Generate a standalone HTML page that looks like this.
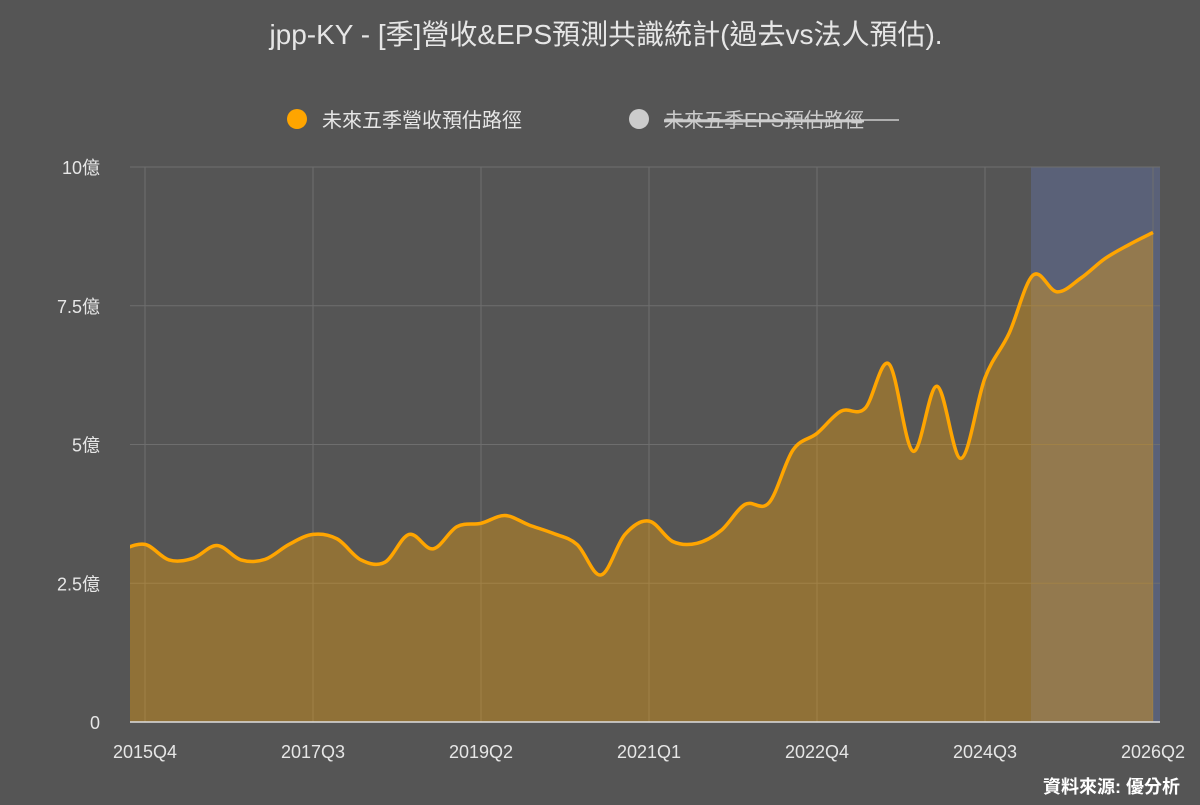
<!DOCTYPE html>
<html><head><meta charset="utf-8"><style>
body{margin:0;background:#555555;font-family:"Liberation Sans","Noto Sans CJK TC",sans-serif;}
svg text{font-family:"Liberation Sans","Noto Sans CJK TC",sans-serif;}
</style></head><body>
<svg id="chart" width="1200" height="800">
<rect width="1200" height="800" fill="#555555"/>
<text x="606" y="44" text-anchor="middle" font-size="28" fill="#e6e6e6">jpp-KY - [季]營收&amp;EPS預測共識統計(過去vs法人預估).</text>
<g><circle cx="297" cy="119" r="10" fill="#ffa500"/><text x="322" y="127" font-size="20" fill="#e6e6e6">未來五季營收預估路徑</text></g>
<g><circle cx="639" cy="119" r="10" fill="#cccccc"/><text x="664" y="127" font-size="20" fill="#cccccc" text-decoration="line-through">未來五季EPS預估路徑</text><line x1="664" y1="120" x2="899" y2="120" stroke="#cccccc" stroke-width="1.5"/></g>
<g id="grid"></g><g id="plot"></g><g id="axes"></g>
<text x="1180" y="793" text-anchor="end" font-size="18" fill="#ffffff" font-weight="bold">資料來源: 優分析</text>
</svg>
<script>
const categories=["2015Q3","2015Q4","2016Q1","2016Q2","2016Q3","2016Q4","2017Q1","2017Q2","2017Q3","2017Q4","2018Q1","2018Q2","2018Q3","2018Q4","2019Q1","2019Q2","2019Q3","2019Q4","2020Q1","2020Q2","2020Q3","2020Q4","2021Q1","2021Q2","2021Q3","2021Q4","2022Q1","2022Q2","2022Q3","2022Q4","2023Q1","2023Q2","2023Q3","2023Q4","2024Q1","2024Q2","2024Q3","2024Q4","2025Q1","2025Q2","2025Q3","2025Q4","2026Q1","2026Q2"];
const revenue=[3.1,3.2,2.92,2.95,3.18,2.92,2.93,3.2,3.38,3.3,2.92,2.88,3.38,3.12,3.52,3.58,3.72,3.55,3.4,3.2,2.65,3.38,3.62,3.25,3.22,3.45,3.92,3.95,4.9,5.2,5.6,5.65,6.45,4.88,6.05,4.75,6.2,7.0,8.05,7.75,8.0,8.35,8.6,8.82];
const yTicks=[0,2.5,5,7.5,10];
const yTickLabels=["0","2.5億","5億","7.5億","10億"];
const xTickLabels=["2015Q4","2017Q3","2019Q2","2021Q1","2022Q4","2024Q3","2026Q2"];
const forecastStart="2025Q1";
const L=130,R=1160,T=167,B=722;
const x=i=>145+24*(i-1);
const y=v=>B-(v/10)*(B-T);
const NS="http://www.w3.org/2000/svg";
function mk(tag,attrs,parent){const e=document.createElementNS(NS,tag);for(const k in attrs)e.setAttribute(k,attrs[k]);parent.appendChild(e);return e;}
const grid=document.getElementById('grid'),plot=document.getElementById('plot'),axes=document.getElementById('axes');
const defs=mk('defs',{},plot);const cp=mk('clipPath',{id:'c'},defs);mk('rect',{x:L,y:T-5,width:R-L,height:B-T+5},cp);
const fi=categories.indexOf(forecastStart);
const band=mk('rect',{x:x(fi)-2,y:T,width:R-(x(fi)-2),height:B-T,fill:'#5a6178'},grid);


yTicks.forEach((t,i)=>{
 const ln=mk('line',{x1:L,x2:R,y1:y(t),y2:y(t),stroke:'#6e6e6e','stroke-width':1},grid);
 
 
 const tx=mk('text',{x:100,y:y(t)+7,'text-anchor':'end','font-size':18,fill:'#e6e6e6'},axes);tx.textContent=yTickLabels[i];
 
 
});
xTickLabels.forEach(lb=>{
 const i=categories.indexOf(lb);
 const ln=mk('line',{x1:x(i),x2:x(i),y1:T,y2:B,stroke:'#6e6e6e','stroke-width':1},grid);
 
 
 const tx=mk('text',{x:x(i),y:758,'text-anchor':'middle','font-size':18,fill:'#e6e6e6'},axes);tx.textContent=lb;
 
 
});
const pts=revenue.map((v,i)=>[x(i),y(v)]);
let d='M'+pts[0][0]+','+pts[0][1];
for(let i=0;i<pts.length-1;i++){const p0=pts[Math.max(0,i-1)],p1=pts[i],p2=pts[i+1],p3=pts[Math.min(pts.length-1,i+2)];const k=0.17;
 d+=` C${p1[0]+(p2[0]-p0[0])*k},${p1[1]+(p2[1]-p0[1])*k} ${p2[0]-(p3[0]-p1[0])*k},${p2[1]-(p3[1]-p1[1])*k} ${p2[0]},${p2[1]}`;}
const last=pts[pts.length-1];
const g=mk('g',{'clip-path':'url(#c)'},plot);
const area=mk('path',{d:d+` L${last[0]},${B} L${pts[0][0]},${B} Z`,fill:'#ffa500','fill-opacity':0.35},g);


const line=mk('path',{d:d,fill:'none',stroke:'#ffa500','stroke-width':3.5},g);


const ax=mk('line',{x1:L,x2:R,y1:B,y2:B,stroke:'#dddddd','stroke-width':1.5},axes);


</script>
</body></html>
